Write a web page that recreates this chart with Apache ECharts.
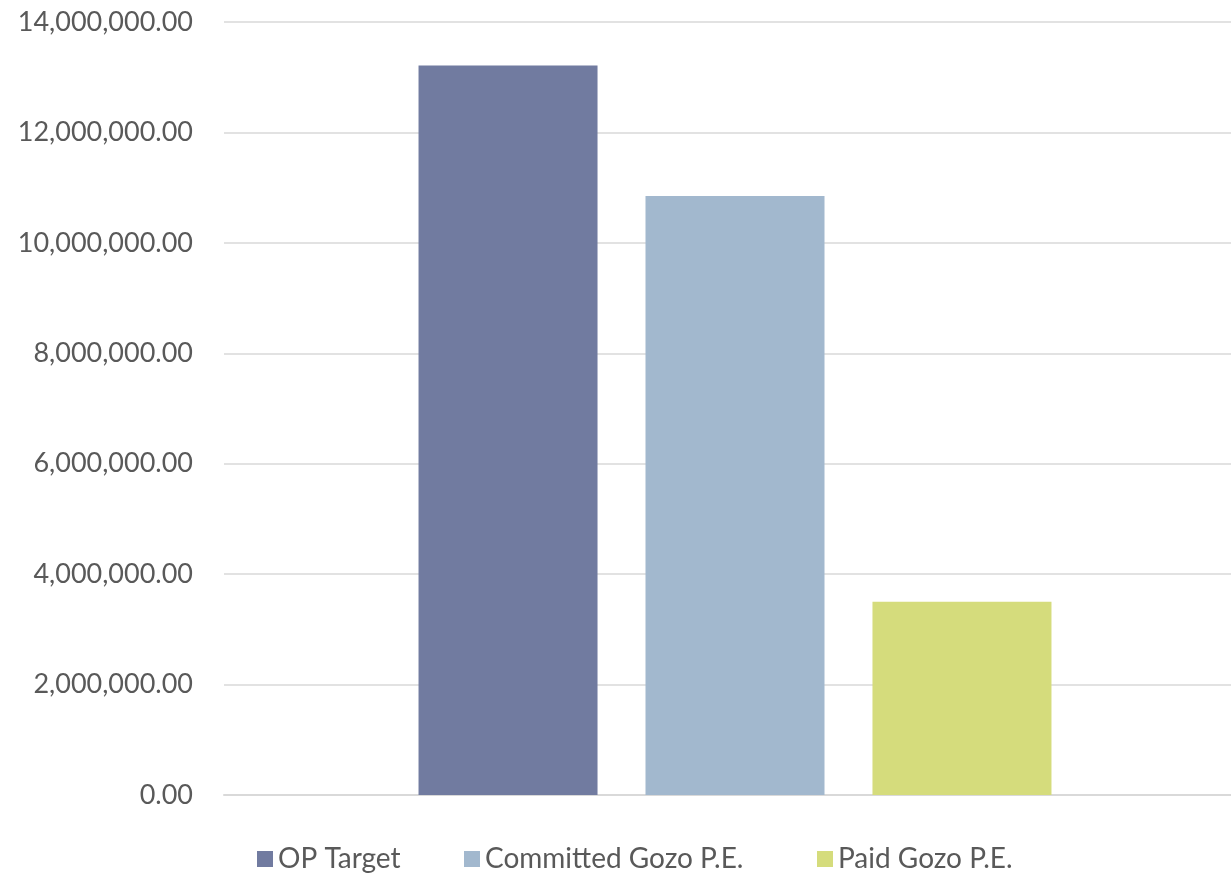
<!DOCTYPE html>
<html>
<head>
<meta charset="utf-8">
<script src="https://cdn.jsdelivr.net/npm/echarts@6/dist/echarts.min.js"></script>
<style>
    html, body { margin: 0; padding: 0; background: #fff; }
    #chart { width: 1231px; height: 875px; }
</style>
</head>
<body>
<div id="chart"></div>
<script>
    // data
    const categories = ['']
    const seriesNames = ['OP Target', 'Committed Gozo P.E.', 'Paid Gozo P.E.']
    const seriesValues = [13210000, 10850000, 3500000]
    const seriesColors = ['#717ba0', '#a2b8ce', '#d5dc7c']
    const yTicks = [0, 2000000, 4000000, 6000000, 8000000, 10000000, 12000000, 14000000]

    const legendLeft = [252, 459, 812]

    let series = []
    let legends = []
    for (let i = 0; i < seriesNames.length; i++) {
        series.push({
            name: seriesNames[i],
            type: 'bar',
            barWidth: 179,
            barGap: '26.8%',
            itemStyle: { color: seriesColors[i] },
            data: [seriesValues[i]]
        })
        legends.push({
            top: 840,
            left: legendLeft[i],
            itemWidth: 16,
            itemHeight: 16,
            icon: 'rect',
            textStyle: { fontSize: 28, color: '#595959', fontFamily: 'Lato' },
            data: [seriesNames[i]]
        })
    }

    let option = {
        animation: false,
        textStyle: { fontFamily: 'Lato', color: '#595959' },
        grid: {
            top: 22,
            left: 224,
            right: -15,
            bottom: 80,
            outerBoundsMode: 'none'
        },
        legend: legends,
        xAxis: {
            type: 'category',
            data: categories,
            axisLine: { lineStyle: { color: '#d9d9d9', width: 2 } },
            axisTick: { show: false },
            axisLabel: { show: false }
        },
        yAxis: {
            type: 'value',
            min: yTicks[0],
            max: yTicks[yTicks.length - 1],
            interval: 2000000,
            axisLine: { show: false },
            axisTick: { show: false },
            splitLine: { lineStyle: { color: '#d9d9d9', width: 1.5 } },
            axisLabel: {
                margin: 31,
                fontSize: 27,
                color: '#595959',
                fontFamily: 'Lato',
                formatter: function (value) {
                    return value.toLocaleString('en-US', { minimumFractionDigits: 2, maximumFractionDigits: 2 })
                }
            }
        },
        series: series
    }

    let myChart = echarts.init(document.getElementById('chart'))
    myChart.setOption(option)
</script>
</body>
</html>
